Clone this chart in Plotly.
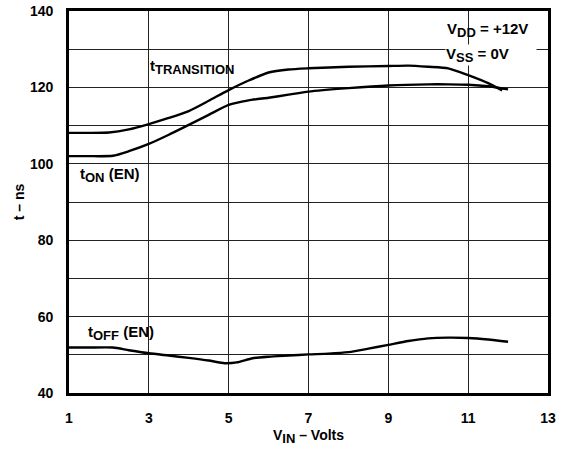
import plotly.graph_objects as go

# Switching time vs. input voltage (VDD = +12V, VSS = 0V)
vin_trans = [1.0, 1.5, 2.0, 2.5, 3.0, 3.5, 4.0, 4.5, 5.0, 5.5, 6.0, 6.5, 7.0, 8.0, 9.0, 9.5, 10.0, 10.5, 11.0, 11.5, 11.85]
t_trans = [108.1, 108.1, 108.2, 109.0, 110.4, 112.0, 113.8, 116.5, 119.3, 121.8, 123.9, 124.7, 125.0, 125.4, 125.6, 125.7, 125.4, 125.0, 123.2, 121.1, 119.2]

vin_on = [1.0, 1.5, 2.1, 2.5, 3.0, 3.5, 4.0, 4.5, 5.0, 5.5, 6.0, 6.5, 7.0, 8.0, 9.0, 10.0, 10.5, 11.0, 11.5, 12.0]
t_on = [102.0, 102.0, 102.1, 103.3, 105.2, 107.6, 110.2, 112.8, 115.4, 116.6, 117.3, 118.1, 118.9, 119.8, 120.5, 120.8, 120.8, 120.7, 120.3, 119.5]

vin_off = [1.0, 1.5, 2.1, 2.5, 3.0, 3.5, 4.0, 4.5, 4.9, 5.2, 5.6, 6.0, 6.5, 7.0, 7.5, 8.0, 8.5, 9.0, 9.5, 10.0, 10.5, 11.0, 11.5, 12.0]
t_off = [51.9, 51.9, 51.9, 51.2, 50.4, 49.8, 49.2, 48.5, 47.8, 48.0, 49.1, 49.5, 49.8, 50.1, 50.3, 50.7, 51.6, 52.6, 53.6, 54.3, 54.5, 54.4, 54.0, 53.4]

x_ticks = [1, 3, 5, 7, 9, 11, 13]
y_ticks = [40, 60, 80, 100, 120, 140]

FONT = "Liberation Sans, Arial, sans-serif"
line_style = dict(color="black", width=2.4, shape="spline", smoothing=0.6)


def sub(txt, size=12):
    """Subscript kept close to the main text size."""
    return f"<sub><span style='font-size:{size}px'>{txt}</span></sub>"


fig = go.Figure()
for xs, ys in [(vin_trans, t_trans), (vin_on, t_on), (vin_off, t_off)]:
    fig.add_trace(go.Scatter(x=xs, y=ys, mode="lines", line=line_style,
                             showlegend=False, hoverinfo="skip"))

grid = "#222222"
fig.update_xaxes(
    range=[1, 13], tickvals=x_ticks, ticktext=[str(v) for v in x_ticks],
    showgrid=True, gridcolor=grid, gridwidth=1.2, automargin=False,
    showline=True, linecolor="black", linewidth=2.6, mirror=True,
    ticks="", ticklabelstandoff=10, zeroline=False,
    tickfont=dict(family=FONT, size=14, color="black", weight="bold"),
    title=dict(text="V" + sub("IN", 13) + " – Volts", standoff=6,
               font=dict(family=FONT, size=14, color="black", weight="bold")),
)
fig.update_yaxes(
    range=[40, 140], tickvals=y_ticks, ticktext=[str(v) for v in y_ticks],
    showgrid=True, gridcolor=grid, gridwidth=1.2, automargin=False,
    minor=dict(dtick=10, tick0=40, showgrid=True, gridcolor=grid, gridwidth=1.2),
    showline=True, linecolor="black", linewidth=2.6, mirror=True,
    ticks="", ticklabelstandoff=10, zeroline=False,
    tickfont=dict(family=FONT, size=14, color="black", weight="bold"),
    title=dict(text="t – ns", standoff=3,
               font=dict(family=FONT, size=14, color="black", weight="bold")),
)

ann_font = dict(family=FONT, size=15, color="black", weight="bold")
fig.add_annotation(x=2.98, y=125.4, text="t" + sub("TRANSITION", 13), showarrow=False,
                   xanchor="left", yanchor="middle", font=ann_font)
fig.add_annotation(x=1.22, y=97.0, text="t" + sub("ON", 13) + " (EN)", showarrow=False,
                   xanchor="left", yanchor="middle", font=ann_font)
fig.add_annotation(x=1.42, y=55.7, text="t" + sub("OFF", 13) + " (EN)", showarrow=False,
                   xanchor="left", yanchor="middle", font=ann_font)
fig.add_annotation(x=10.42, y=135.0, text="V" + sub("DD", 13) + " = +12V", showarrow=False,
                   xanchor="left", yanchor="middle", font=ann_font)
fig.add_annotation(x=10.42, y=128.6, text="V" + sub("SS", 13) + " = 0V", showarrow=False,
                   xanchor="left", yanchor="middle", align="left", width=90,
                   font=ann_font, bgcolor="white", borderpad=0)

fig.update_layout(
    width=571, height=452,
    margin=dict(l=69, r=23, t=11, b=59),
    paper_bgcolor="white", plot_bgcolor="white",
)

fig.write_html("out.html")
